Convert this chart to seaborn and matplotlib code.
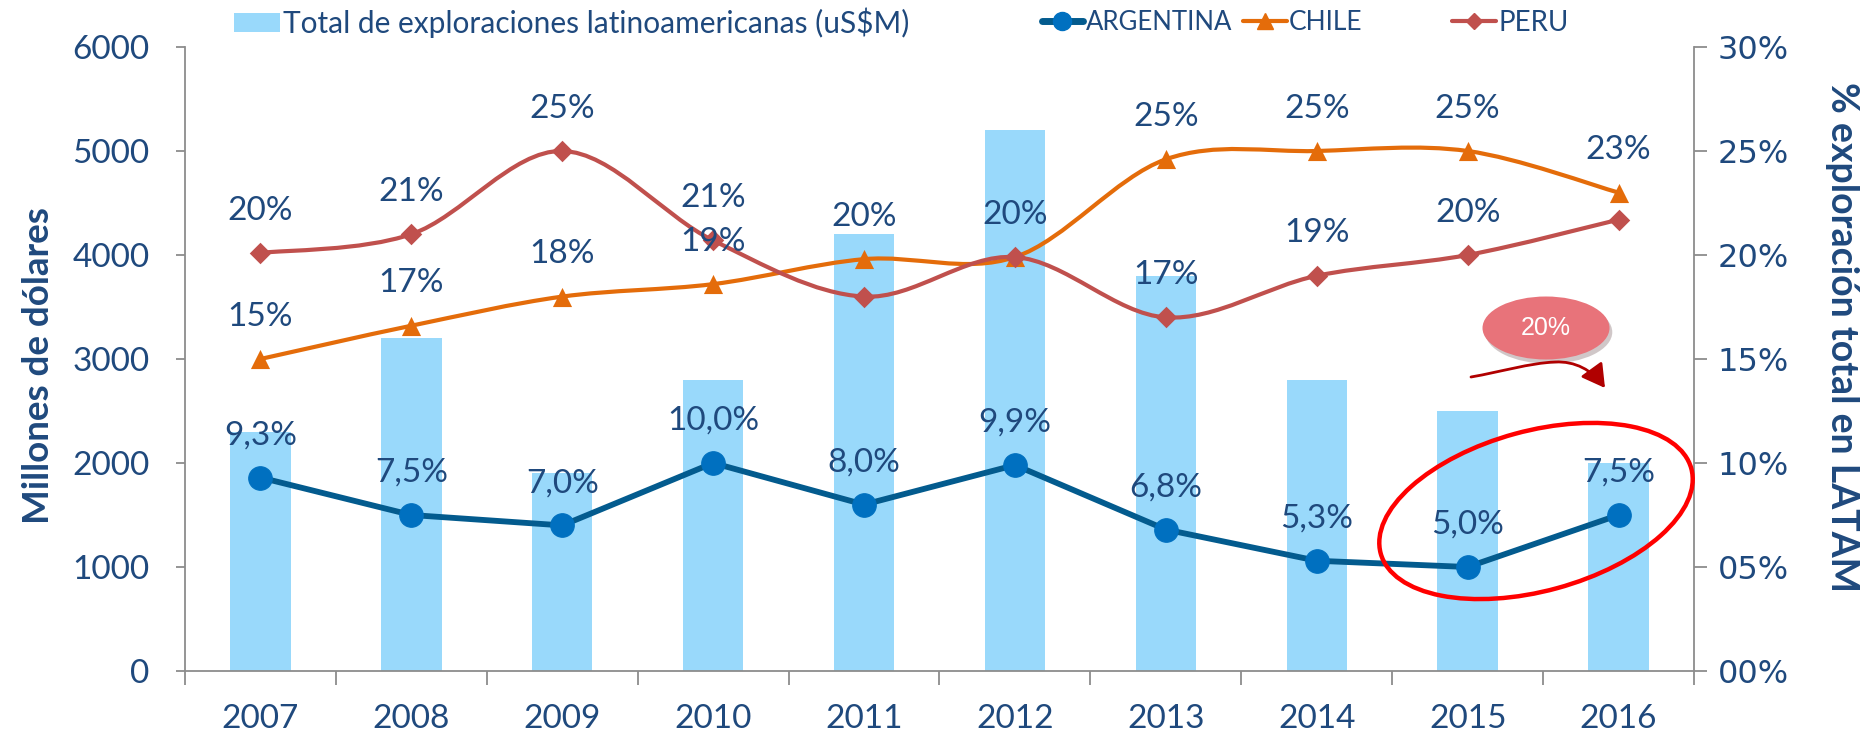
import numpy as np
import pandas as pd
import matplotlib
matplotlib.use("Agg")
import matplotlib.pyplot as plt
import seaborn as sns
from matplotlib.path import Path
from matplotlib.patches import PathPatch, Ellipse, FancyArrowPatch, Patch
from matplotlib.lines import Line2D
from matplotlib.transforms import IdentityTransform
import matplotlib.patheffects as pe

# ---------------- data ----------------
years = ["2007", "2008", "2009", "2010", "2011", "2012", "2013", "2014", "2015", "2016"]
total_latam = [2300, 3200, 1900, 2800, 4200, 5200, 3800, 2800, 2500, 2000]
argentina = [9.3, 7.5, 7.0, 10.0, 8.0, 9.9, 6.8, 5.3, 5.0, 7.5]
chile = [15.0, 16.6, 18.0, 18.6, 19.8, 19.9, 24.6, 25.0, 25.0, 23.0]
peru = [20.1, 21.0, 25.0, 20.7, 18.0, 19.9, 17.0, 19.0, 20.0, 21.7]
left_ticks = [0, 1000, 2000, 3000, 4000, 5000, 6000]
right_ticks = [0, 5, 10, 15, 20, 25, 30]
right_tick_labels = ["00%", "05%", "10%", "15%", "20%", "25%", "30%"]
bar_name = "Total de exploraciones latinoamericanas (uS$M)"
series_names = ["ARGENTINA", "CHILE", "PERU"]
left_title = "Millones de dólares"
right_title = "% exploración total en LATAM"
callout_text = "20%"

# labels not shown in the original (hidden / overlapped)
hidden_labels = {("PERU", 4), ("PERU", 5), ("PERU", 9)}

# ---------------- style ----------------
sns.set_style("white")
plt.rcParams["font.family"] = ["Lato", "DejaVu Sans"]

TXT = "#1F497D"
GRAY = "#8C8C8C"
BAR = "#99D9FB"
ARG_LINE = "#035B8E"
ARG_MARK = "#0070C0"
CHILE_C = "#E46C0A"
PERU_C = "#C0504D"

W, H = 1874, 735
fig = plt.figure(figsize=(W / 100, H / 100), dpi=100)
ax = fig.add_axes([185 / W, 64 / H, 1509 / W, 624 / H])

df = pd.DataFrame({"year": years, "total": total_latam})
sns.barplot(data=df, x="year", y="total", ax=ax, color=BAR, width=0.4,
            saturation=1, edgecolor="none", linewidth=0, zorder=1)

ax.set_ylim(0, 6000)
ax.set_yticks(left_ticks)
ax.set_xlabel("")
idx = np.arange(len(years))

for s in ["top", "right"]:
    ax.spines[s].set_visible(False)
for s in ["left", "bottom"]:
    ax.spines[s].set_color(GRAY)
    ax.spines[s].set_linewidth(1.3)

ax.tick_params(axis="y", which="major", left=True, length=6.5, width=1.3,
               color=GRAY, labelsize=24, labelcolor=TXT, pad=19, direction="out")
ax.set_xticks(idx)
ax.set_xticklabels(years)
ax.set_xticks(np.arange(-0.5, len(years), 1.0), minor=True)
ax.tick_params(axis="x", which="major", bottom=True, length=0, labelsize=24,
               labelcolor=TXT, pad=24)
ax.tick_params(axis="x", which="minor", bottom=True, length=10, width=1.3,
               color=GRAY, direction="out")

ax.set_ylabel(left_title, fontsize=26.5, fontweight="bold", color=TXT)
ax.yaxis.set_label_coords((55 - 185) / 1509, 0.49)

# ---------------- secondary axis ----------------
ax2 = ax.twinx()
ax2.set_ylim(0, 30)
ax2.set_yticks(right_ticks)
ax2.set_yticklabels(right_tick_labels, fontfamily="DejaVu Sans")
for s in ["top", "left", "bottom"]:
    ax2.spines[s].set_visible(False)
ax2.spines["right"].set_color(GRAY)
ax2.spines["right"].set_linewidth(1.3)
ax2.tick_params(axis="y", right=True, length=9, width=1.3, color=GRAY,
                labelsize=23, labelcolor=TXT, pad=8, direction="out")


def smooth_path(xs, ys):
    P = np.column_stack([xs, ys]).astype(float)
    n = len(P)
    verts = [P[0]]
    codes = [Path.MOVETO]
    for i in range(n - 1):
        p0 = P[i - 1] if i > 0 else P[i]
        p1, p2 = P[i], P[i + 1]
        p3 = P[i + 2] if i + 2 < n else P[i + 1]
        verts += [p1 + (p2 - p0) / 6, p2 - (p3 - p1) / 6, p2]
        codes += [Path.CURVE4] * 3
    return Path(verts, codes)


for vals, col in [(chile, CHILE_C), (peru, PERU_C)]:
    ax2.add_patch(PathPatch(smooth_path(idx, vals), fill=False, edgecolor=col,
                            lw=3.0, capstyle="round", joinstyle="round", zorder=2))

sns.scatterplot(x=idx, y=chile, ax=ax2, marker="^", s=190, color=CHILE_C,
                edgecolor=CHILE_C, linewidth=0, legend=False, zorder=4)
sns.scatterplot(x=idx, y=peru, ax=ax2, marker="D", s=120, color=PERU_C,
                edgecolor=PERU_C, linewidth=0, legend=False, zorder=4)
sns.lineplot(x=idx, y=argentina, ax=ax2, color=ARG_LINE, lw=4.2, marker="o",
             markersize=17, markerfacecolor=ARG_MARK, markeredgecolor=ARG_MARK,
             zorder=3, legend=False)
ax2.set_xlim(-0.5, len(years) - 0.5)
ax2.set_ylim(0, 30)
ax2.set_ylabel(right_title, fontsize=27, fontweight="bold", color=TXT,
               rotation=270, va="bottom")
ax2.yaxis.set_label_coords((1825 - 185) / 1509, 0.535)

# data labels
for name, vals in zip(series_names, [argentina, chile, peru]):
    for i, v in enumerate(vals):
        if (name, i) in hidden_labels:
            continue
        if name == "ARGENTINA":
            lab = f"{v:.1f}".replace(".", ",") + "%"
        else:
            lab = f"{int(v + 0.5)}%"
        ax2.annotate(lab, (i, v), xytext=(0, 24), textcoords="offset points",
                     ha="center", va="baseline", fontsize=24, color=TXT, zorder=6)

# ---------------- legend ----------------
leg_y = 1 - 23 / H
handles = [
    Patch(facecolor=BAR, edgecolor="none"),
    Line2D([], [], color=ARG_LINE, lw=5, marker="o", ms=13, mfc=ARG_MARK, mec=ARG_MARK),
    Line2D([], [], color=CHILE_C, lw=3, marker="^", ms=12, mfc=CHILE_C, mec=CHILE_C),
    Line2D([], [], color=PERU_C, lw=3, marker="D", ms=8, mfc=PERU_C, mec=PERU_C),
]
labels = [bar_name] + series_names
leg_x = [234, 1042, 1243, 1452]
hlen = [1.75, 1.55, 1.65, 1.65]
fsz = [21.5, 18.5, 19, 20]
for h, l, x, hl, fs in zip(handles, labels, leg_x, hlen, fsz):
    fig.legend(handles=[h], labels=[l], loc="center left",
               bbox_to_anchor=(x / W, leg_y), frameon=False, borderpad=0,
               borderaxespad=0, handlelength=hl * 19 / fs, handleheight=0.7 * 19 / fs,
               handletextpad=0.1, fontsize=fs, labelcolor=TXT)

# ---------------- callout annotations ----------------
ring = Ellipse((1536, H - 511), 322, 160, angle=15.3, transform=IdentityTransform(),
               fill=False, edgecolor="#FF0000", lw=3.2, zorder=10)
fig.add_artist(ring)

bubble = Ellipse((1546, H - 328), 127, 63, transform=IdentityTransform(),
                 facecolor="#E8737A", edgecolor="none", zorder=10,
                 path_effects=[pe.SimplePatchShadow(offset=(2, -3), alpha=0.25), pe.Normal()])
fig.add_artist(bubble)
fig.text(1546 / W, 1 - 328 / H, callout_text, ha="center", va="center",
         color="white", fontsize=18, fontfamily="Liberation Sans", zorder=11)

pts = [(1471, 377), (1500, 372), (1530, 363), (1555, 362),
       (1575, 361), (1592, 370), (1605, 388)]
arrow_path = Path([(x, H - y) for x, y in pts],
                  [Path.MOVETO] + [Path.CURVE4] * 6)
arrow = FancyArrowPatch(path=arrow_path, transform=IdentityTransform(),
                        arrowstyle="-|>,head_length=0.7,head_width=0.4",
                        mutation_scale=20, color="#B00000", lw=2, zorder=10)
fig.add_artist(arrow)

fig.savefig("out.png", dpi=100)
